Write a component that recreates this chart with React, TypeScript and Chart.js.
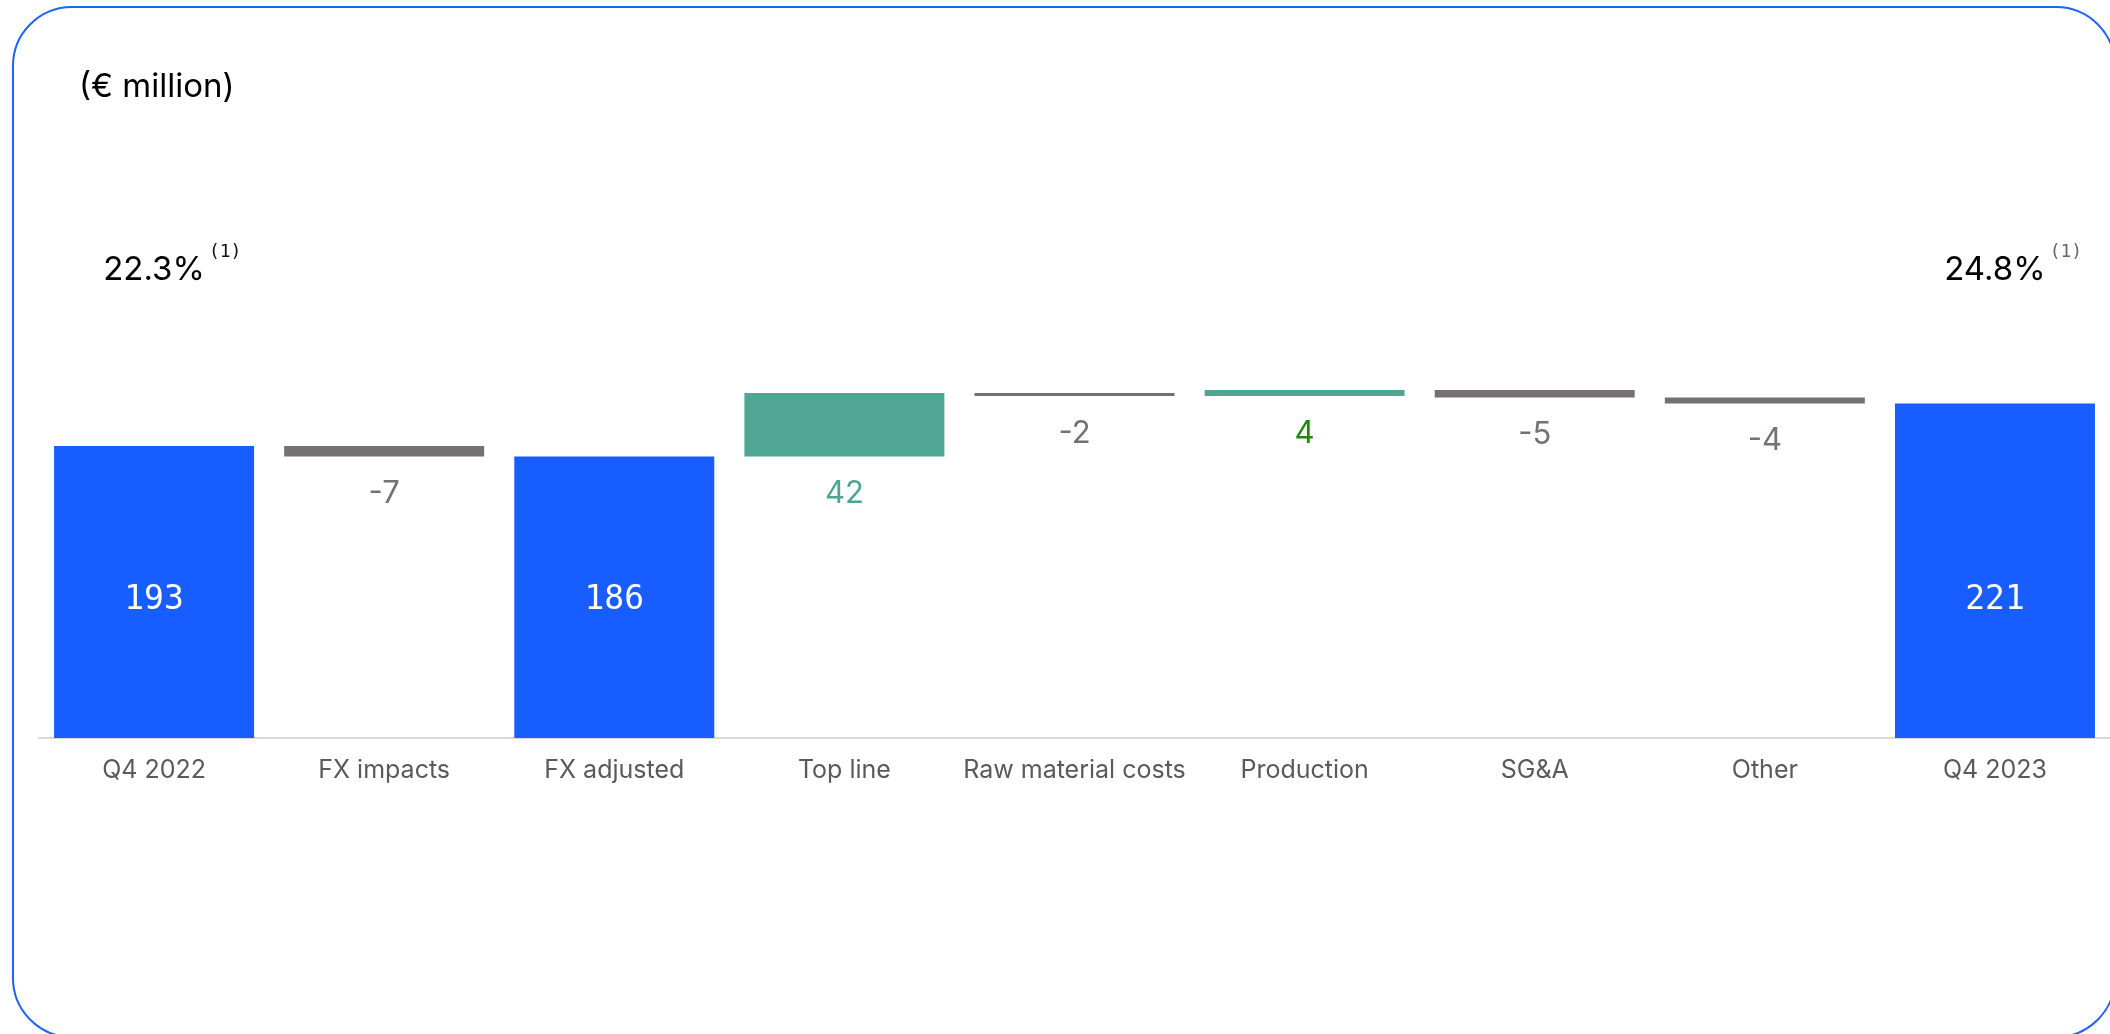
import React, { useEffect, useRef } from "react";
import { Chart, registerables } from "chart.js";

Chart.register(...registerables);

const categories = [
  "Q4 2022",
  "FX impacts",
  "FX adjusted",
  "Top line",
  "Raw material costs",
  "Production",
  "SG&A",
  "Other",
  "Q4 2023",
];
const values = [193, -7, 186, 42, -2, 4, -5, -4, 221];
const kinds = ["total", "delta", "total", "delta", "delta", "delta", "delta", "delta", "total"];
const valueLabels = ["193", "-7", "186", "42", "-2", "4", "-5", "-4", "221"];
const labelColors = ["#ffffff", "#767171", "#ffffff", "#4ea692", "#767171", "#1e8a00", "#767171", "#767171", "#ffffff"];
const marginLabels = ["22.3%", "", "", "", "", "", "", "", "24.8%"];
const marginNotes = ["(1)", "", "", "", "", "", "", "", "(1)"];
const marginNoteColors = ["#111111", "", "", "", "", "", "", "", "#666666"];
const unitTitle = "(€ million)";

const BLUE = "#175dff";
const GRAY = "#767171";
const TEAL = "#4fa693";

function buildRanges(): [number, number][] {
  const out: [number, number][] = [];
  let running = 0;
  values.forEach((v, i) => {
    if (kinds[i] === "total") {
      out.push([0, v]);
      running = v;
    } else {
      out.push([running, running + v]);
      running = running + v;
    }
  });
  return out;
}

function barColor(i: number): string {
  if (kinds[i] === "total") return BLUE;
  return values[i] < 0 ? GRAY : TEAL;
}

const labelPlugin = {
  id: "wfLabels",
  afterDatasetsDraw(chart: any) {
    const ctx = chart.ctx;
    const meta = chart.getDatasetMeta(0);
    const totalLabelY = 600;
    ctx.save();
    meta.data.forEach((el: any, i: number) => {
      const { x, y, base } = el.getProps(["x", "y", "base"], true);
      const bottom = Math.max(y, base);
      if (kinds[i] === "total") {
        ctx.font = "33px 'DejaVu Sans Mono'";
        ctx.fillStyle = labelColors[i];
        ctx.textAlign = "center";
        ctx.textBaseline = "middle";
        ctx.fillText(valueLabels[i], x, totalLabelY);
      } else {
        ctx.font = "31px Inter";
        ctx.fillStyle = labelColors[i];
        ctx.textAlign = "center";
        ctx.textBaseline = "top";
        ctx.fillText(valueLabels[i], x, bottom + 22);
      }
      if (marginLabels[i]) {
        ctx.font = "33px Inter";
        ctx.fillStyle = "#000000";
        ctx.textAlign = "center";
        ctx.textBaseline = "alphabetic";
        ctx.fillText(marginLabels[i], x, 280);
        const w = ctx.measureText(marginLabels[i]).width;
        ctx.font = "18px 'DejaVu Sans Mono'";
        ctx.fillStyle = marginNoteColors[i];
        ctx.textAlign = "left";
        ctx.fillText(marginNotes[i], x + w / 2 + 4, 257);
      }
    });
    ctx.font = "33px Inter";
    ctx.fillStyle = "#000000";
    ctx.textAlign = "left";
    ctx.textBaseline = "alphabetic";
    ctx.fillText(unitTitle, 79, 97);
    ctx.restore();
  },
};

export default function App() {
  const ref = useRef<HTMLCanvasElement | null>(null);

  useEffect(() => {
    if (!ref.current) return;
    const ranges = buildRanges();
    const chart = new Chart(ref.current, {
      type: "bar",
      data: {
        labels: categories,
        datasets: [
          {
            data: ranges as any,
            backgroundColor: categories.map((_, i) => barColor(i)),
            borderWidth: 0,
            borderSkipped: false,
            categoryPercentage: 1,
            barPercentage: 0.869,
          },
        ],
      },
      options: {
        responsive: false,
        animation: false,
        devicePixelRatio: 1,
        layout: { padding: { left: 39, right: 0, top: 284, bottom: 216 } },
        plugins: {
          legend: { display: false },
          tooltip: { enabled: false },
          title: { display: false },
        },
        scales: {
          x: {
            grid: { display: false, drawTicks: false },
            border: { display: true, color: "#d9d9d9", width: 2 },
            ticks: {
              font: { family: "Inter", size: 25 },
              color: "#5a5a5a",
              padding: 17,
              maxRotation: 0,
              autoSkip: false,
            },
            afterFit: (scale: any) => {
              scale.height = 80;
            },
          },
          y: {
            display: false,
            min: 0,
            max: 300,
          },
        },
      },
      plugins: [labelPlugin],
    });
    return () => chart.destroy();
  }, []);

  return (
    <div
      style={{
        position: "fixed",
        left: 0,
        top: 0,
        width: 2110,
        height: 1034,
        overflow: "hidden",
        background: "#ffffff",
      }}
    >
      <div
        style={{
          position: "absolute",
          left: 12,
          top: 6,
          width: 2104,
          height: 1032,
          boxSizing: "border-box",
          border: "2px solid #1e62ff",
          borderRadius: 60,
        }}
      />
      <canvas
        ref={ref}
        width={2110}
        height={1034}
        style={{ position: "absolute", left: 0, top: 0, display: "block" }}
      />
    </div>
  );
}
